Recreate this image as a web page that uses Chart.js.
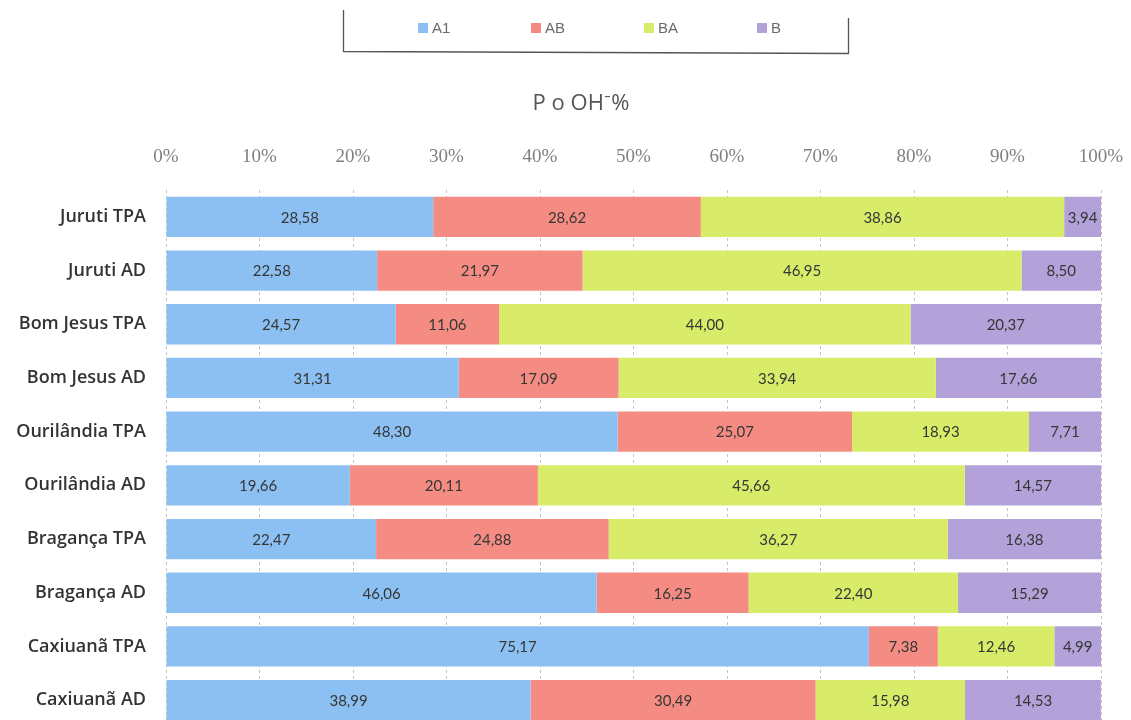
<!DOCTYPE html>
<html>
<head>
<meta charset="utf-8">
<style>
  html, body { margin: 0; padding: 0; background: #ffffff; overflow: hidden; }
</style>
<script src="https://cdn.jsdelivr.net/npm/chart.js@4/dist/chart.umd.min.js"></script>
</head>
<body>
<canvas id="c" width="1131" height="745" style="display:block;width:1131px;height:745px"></canvas>
<script>
// Sites and land-use types (top to bottom)
const categories = [
  'Juruti TPA', 'Juruti AD', 'Bom Jesus TPA', 'Bom Jesus AD',
  'Ourilândia TPA', 'Ourilândia AD', 'Bragança TPA', 'Bragança AD',
  'Caxiuanã TPA', 'Caxiuanã AD'
];

// P fractions, % of total P extracted with OH-
const seriesA1 = [28.58, 22.58, 24.57, 31.31, 48.30, 19.66, 22.47, 46.06, 75.17, 38.99];
const seriesAB = [28.62, 21.97, 11.06, 17.09, 25.07, 20.11, 24.88, 16.25, 7.38, 30.49];
const seriesBA = [38.86, 46.95, 44.00, 33.94, 18.93, 45.66, 36.27, 22.40, 12.46, 15.98];
const seriesB  = [3.94, 8.50, 20.37, 17.66, 7.71, 14.57, 16.38, 15.29, 4.99, 14.53];

const seriesNames = ['A1', 'AB', 'BA', 'B'];
const seriesColors = ['#8cc0f2', '#f48c84', '#d8ec6a', '#b3a2d9'];
const tickLabels = ['0%', '10%', '20%', '30%', '40%', '50%', '60%', '70%', '80%', '90%', '100%'];
const titleText = 'P o OH\u207B%';

const fmt = v => v.toFixed(2).replace('.', ',');

// Value labels centred in each stacked segment
const segmentLabels = {
  id: 'segmentLabels',
  afterDatasetsDraw(chart) {
    const ctx = chart.ctx;
    ctx.save();
    ctx.font = '15px Lato, "Open Sans", sans-serif';
    ctx.fillStyle = '#363636';
    ctx.textAlign = 'center';
    ctx.textBaseline = 'middle';
    chart.data.datasets.forEach((ds, di) => {
      const meta = chart.getDatasetMeta(di);
      meta.data.forEach((bar, i) => {
        const x = (bar.x + bar.base) / 2;
        ctx.fillText(fmt(ds.data[i]), x, bar.y + 1);
      });
    });
    ctx.restore();
  }
};

// Boxed legend and chart title above the axis
const headerPlugin = {
  id: 'header',
  afterDraw(chart) {
    const ctx = chart.ctx;
    ctx.save();
    // legend frame (open at the top)
    ctx.strokeStyle = '#555';
    ctx.lineWidth = 1.3;
    ctx.beginPath();
    ctx.moveTo(343.5, 10);
    ctx.lineTo(343.5, 51.5);
    ctx.lineTo(848.5, 53.5);
    ctx.lineTo(848.5, 18);
    ctx.stroke();

    // legend entries
    const startX = 418, step = 113, y = 28;
    ctx.font = '15px "Liberation Sans", Arial, sans-serif';
    ctx.textBaseline = 'middle';
    ctx.textAlign = 'left';
    chart.data.datasets.forEach((ds, i) => {
      const x = startX + i * step;
      ctx.fillStyle = ds.backgroundColor;
      ctx.fillRect(x, y - 5, 10, 10);
      ctx.fillStyle = '#6a6a6a';
      ctx.fillText(ds.label, x + 14, y + 1);
    });

    // title
    ctx.font = '22px "Open Sans", Lato, sans-serif';
    ctx.fillStyle = '#555';
    ctx.textAlign = 'center';
    ctx.fillText(titleText, 581, 104);
    ctx.restore();
  }
};

const datasets = [seriesA1, seriesAB, seriesBA, seriesB].map((d, i) => ({
  label: seriesNames[i],
  data: d,
  backgroundColor: seriesColors[i],
  borderWidth: 0,
  barPercentage: 0.75,
  categoryPercentage: 1.0
}));

new Chart(document.getElementById('c'), {
  type: 'bar',
  data: { labels: categories, datasets },
  options: {
    indexAxis: 'y',
    responsive: false,
    animation: false,
    layout: { padding: { top: 128, right: 0, left: 0, bottom: 0 } },
    plugins: {
      legend: { display: false },
      title: { display: false },
      tooltip: { enabled: false }
    },
    scales: {
      x: {
        position: 'top',
        stacked: true,
        min: 0,
        max: 100,
        border: { display: false, dash: [3, 3] },
        grid: {
          color: '#c4c4c4',
          lineWidth: 1,
          drawTicks: false
        },
        ticks: {
          stepSize: 10,
          padding: 22,
          color: '#808080',
          font: { family: '"Liberation Serif", "Times New Roman", serif', size: 19 },
          callback: (v, i) => tickLabels[i]
        },
        afterFit(scale) {
          scale.height = 62;
          scale.paddingLeft = 0;
          scale.paddingRight = 30;
        }
      },
      y: {
        stacked: true,
        border: { display: false },
        grid: { display: false, drawTicks: false },
        ticks: {
          padding: 20,
          color: '#333',
          font: { family: '"Open Sans", Lato, sans-serif', size: 18, weight: '600' }
        },
        afterFit(scale) {
          scale.width = 166;
          scale.paddingTop = 0;
          scale.paddingBottom = 18;
        }
      }
    }
  },
  plugins: [segmentLabels, headerPlugin]
});
</script>
</body>
</html>
